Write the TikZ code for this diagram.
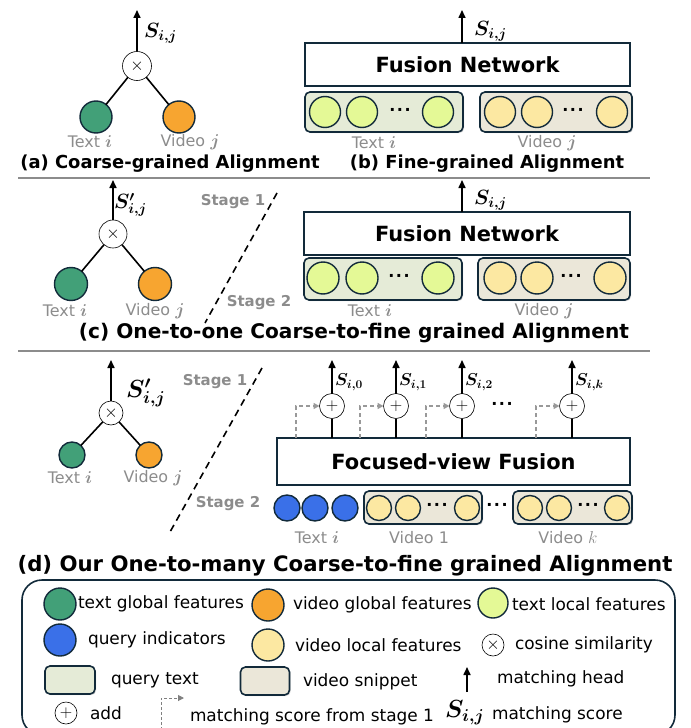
\documentclass[tikz,border=0pt]{standalone}
\usepackage{fontspec}
\setmainfont{DejaVu Sans}
\usepackage{bm}
\usetikzlibrary{arrows.meta,shadows}
\definecolor{navy}{RGB}{18,42,58}
\definecolor{gglob}{RGB}{66,160,120}
\definecolor{vglob}{RGB}{247,165,48}
\definecolor{tloc}{RGB}{228,249,150}
\definecolor{vloc}{RGB}{252,232,162}
\definecolor{qind}{RGB}{58,112,232}
\definecolor{tgrp}{RGB}{229,235,215}
\definecolor{vgrp}{RGB}{235,231,217}
\definecolor{lblgray}{RGB}{140,140,140}
\definecolor{sepgray}{RGB}{140,140,140}
\newcommand\myfs[1]{\fontsize{#1}{#1}\selectfont}
\newcommand\opx{\myfs{16}$\times$}
\newcommand\opp{\myfs{16}$+$}
\newcommand\mydots{·\kern1.5bp·\kern1.5bp·}
\tikzset{
 feat/.style={circle, draw=navy, line width=1.4bp, inner sep=0pt, minimum size=#1},
 grp/.style={draw=navy, line width=1.6bp, rounded corners=5bp, inner sep=0pt,
   drop shadow={opacity=0.3, shadow xshift=1.2bp, shadow yshift=-1.2bp}},
 op/.style={circle, draw=black, line width=0.6bp, fill=white, inner sep=0pt, minimum size=#1},
 conn/.style={line width=1.6bp},
 head/.style={line width=1.6bp, -{Triangle[length=8bp,width=7bp]}},
 stagedash/.style={line width=1.6bp, dash pattern=on 7bp off 5bp},
 prev/.style={draw=black!40, line width=1.4bp, dash pattern=on 4bp off 3bp, -{Triangle[length=6bp,width=6bp]}},
 lbl/.style={text=lblgray, font=\myfs{16}},
 captxt/.style={font=\myfs{#1}\bfseries},
 captxt/.default=18,
 netbox/.style={draw=navy, line width=1.6bp, fill=white, inner sep=0pt, font=\myfs{21}\bfseries},
 stg/.style={text=lblgray, font=\myfs{15}\bfseries},
 leg/.style={font=\myfs{17}, anchor=west},
 dotsn/.style={font=\myfs{16}\bfseries},
 sepline/.style={draw=sepgray, line width=1.8bp},
}
\begin{document}
\begin{tikzpicture}[x=1bp,y=-1bp, every node/.style={inner sep=0pt, outer sep=0pt}]
\useasboundingbox (0,0) rectangle (691,728);

% ---------------- (a)
\node[op=29bp] (xa) at (137,66) {\opx};
\node[feat=32bp, fill=gglob] (ga) at (96,117) {};
\node[feat=32bp, fill=vglob] (oa) at (179,117) {};
\draw[conn] (ga) -- (xa);
\draw[conn] (oa) -- (xa);
\coordinate (ta) at (137,10);
\draw[head] (xa) -- (ta);
\node[anchor=west] (sa) at (144,33) {\myfs{21}$\bm{S_{i,j}}$};
\node[lbl] (lta) at (90,142) {Text $\bm{i}$};
\node[lbl] (lva) at (190,142) {Video $\bm{j}$};
\node[captxt] (capa) at (170,164) {(a) Coarse-grained Alignment};

% ---------------- (b)
\node[netbox, minimum width=325bp, minimum height=43bp] (fb) at (467.5,64.5) {Fusion Network};
\coordinate (fbt) at (462,43);
\coordinate (fbh) at (462,10);
\draw[head] (fbt) -- (fbh);
\node[anchor=west] (sb) at (474,31) {\myfs{21}$\bm{S_{i,j}}$};
\node[grp, fill=tgrp, minimum width=158bp, minimum height=40bp] (tgb) at (384,112) {};
\node[grp, fill=vgrp, minimum width=152bp, minimum height=40bp] (vgb) at (556,112) {};
\node[feat=31bp, fill=tloc] (tb1) at (325,112) {};
\node[feat=31bp, fill=tloc] (tb2) at (362,112) {};
\node[dotsn] (tbd) at (400,112) {\mydots};
\node[feat=31bp, fill=tloc] (tb3) at (438,112) {};
\node[feat=31bp, fill=vloc] (vb1) at (500,112) {};
\node[feat=31bp, fill=vloc] (vb2) at (537,112) {};
\node[dotsn] (vbd) at (573,112) {\mydots};
\node[feat=31bp, fill=vloc] (vb3) at (612,112) {};
\node[lbl] (ltb) at (374,143) {Text $\bm{i}$};
\node[lbl] (lvb) at (547,143) {Video $\bm{j}$};
\node[captxt] (capb) at (487,164) {(b) Fine-grained Alignment};

\draw[sepline] (18,178) -- (650,178);

% ---------------- (c)
\node[op=28bp] (xc) at (113,234) {\opx};
\node[feat=33bp, fill=gglob] (gc) at (71,284) {};
\node[feat=33bp, fill=vglob] (oc) at (155,284) {};
\draw[conn] (gc) -- (xc);
\draw[conn] (oc) -- (xc);
\coordinate (tc) at (113,180);
\draw[head] (xc) -- (tc);
\node[anchor=west] (sc) at (114,205) {\myfs{21}$\bm{S'_{i,j}}$};
\node[lbl] (ltc) at (65,311) {Text $\bm{i}$};
\node[lbl] (lvc) at (155,311) {Video $\bm{j}$};
\node[stg] (s1c) at (233,202) {Stage 1};
\node[stg] (s2c) at (259,303) {Stage 2};
\coordinate (dc1) at (277,193);
\coordinate (dc2) at (205,323);
\draw[stagedash] (dc1) -- (dc2);

\node[netbox, minimum width=326bp, minimum height=43bp] (fc) at (467,233.5) {Fusion Network};
\coordinate (fct) at (462,212);
\coordinate (fch) at (462,180);
\draw[head] (fct) -- (fch);
\node[anchor=west] (sc2) at (474,200) {\myfs{21}$\bm{S_{i,j}}$};
\node[grp, fill=tgrp, minimum width=158bp, minimum height=42bp] (tgc) at (383,279) {};
\node[grp, fill=vgrp, minimum width=152bp, minimum height=42bp] (vgc) at (554,279) {};
\node[feat=32bp, fill=tloc] (tc1) at (323,278) {};
\node[feat=32bp, fill=tloc] (tc2) at (362,278) {};
\node[dotsn] (tcd) at (399,278) {\mydots};
\node[feat=32bp, fill=tloc] (tc3) at (438,278) {};
\node[feat=32bp, fill=vloc] (vc1) at (500,278) {};
\node[feat=32bp, fill=vloc] (vc2) at (537,278) {};
\node[dotsn] (vcd) at (571,278) {\mydots};
\node[feat=32bp, fill=vloc] (vc3) at (610,278) {};
\node[lbl] (ltc2) at (370,311) {Text $\bm{i}$};
\node[lbl] (lvc2) at (544,311) {Video $\bm{j}$};
\node[captxt=20.2] (capc) at (354,333) {(c) One-to-one Coarse-to-fine grained Alignment};

\draw[sepline] (18,351) -- (650,351);

% ---------------- (d)
\node[op=24bp] (xd) at (111,413) {\opx};
\node[feat=26bp, fill=gglob] (gd) at (72,455) {};
\node[feat=26bp, fill=vglob] (od) at (149,455) {};
\draw[conn] (gd) -- (xd);
\draw[conn] (od) -- (xd);
\coordinate (td) at (111,360);
\draw[head] (xd) -- (td);
\node[anchor=west] (sd) at (126,393) {\myfs{23}$\bm{S'_{i,j}}$};
\node[lbl] (ltd) at (70,478) {Text $\bm{i}$};
\node[lbl] (lvd) at (153,478) {Video $\bm{j}$};
\node[stg] (s1d) at (215,382) {Stage 1};
\node[stg] (s2d) at (228,504) {Stage 2};
\coordinate (dd1) at (262,368);
\coordinate (dd2) at (170,532);
\draw[stagedash] (dd1) -- (dd2);

\node[netbox, minimum width=353bp, minimum height=47bp] (fv) at (453.5,461.5) {Focused-view Fusion};
\foreach \n/\x/\s in {0/332/0, 1/396/1, 2/462/2, 3/572/k}{
  \node[op=25bp] (p\n) at (\x,406) {\opp};
  \coordinate (pb\n) at (\x,438);
  \coordinate (pt\n) at (\x,360);
  \coordinate (pd\n) at (\x-36,438);
  \draw[conn] (pb\n) -- (p\n);
  \draw[head] (p\n) -- (pt\n);
  \draw[prev] (pd\n) |- (p\n);
  \node[anchor=west] (ps\n) at (\x+3,382) {\myfs{17}$\bm{S_{i,\s}}$};
}
\node[dotsn] (pdots) at (502,406) {\mydots};

\node[feat=26bp, fill=qind] (q1) at (287,508) {};
\node[feat=26bp, fill=qind] (q2) at (315,508) {};
\node[feat=26bp, fill=qind] (q3) at (345,508) {};
\node[grp, fill=vgrp, minimum width=118bp, minimum height=33bp] (vg1) at (423,507.5) {};
\node[grp, fill=vgrp, minimum width=119bp, minimum height=33bp] (vgk) at (572.5,507.5) {};
\node[feat=25bp, fill=vloc] (v11) at (379,508) {};
\node[feat=25bp, fill=vloc] (v12) at (408,508) {};
\node[dotsn] (v1d) at (437,507) {\mydots};
\node[feat=25bp, fill=vloc] (v13) at (467,508) {};
\node[dotsn] (vmd) at (497,507) {\mydots};
\node[feat=25bp, fill=vloc] (vk1) at (530,508) {};
\node[feat=25bp, fill=vloc] (vk2) at (559,508) {};
\node[dotsn] (vkd) at (588,507) {\mydots};
\node[feat=25bp, fill=vloc] (vk3) at (617,508) {};
\node[lbl] (ltd2) at (317,538) {Text $\bm{i}$};
\node[lbl] (lv1) at (419,538) {Video 1};
\node[lbl] (lvk) at (568,538) {Video $k$};
\node[captxt=21.3] (capd) at (345,566) {(d) Our One-to-many Coarse-to-fine grained Alignment};

% ---------------- legend
\draw[draw=navy, line width=1.6bp, rounded corners=20bp] (22,580) rectangle (675,735);
\node[feat=32bp, fill=gglob] (lg1) at (60,604) {};
\node[leg] (lt1) at (78,604) {text global features};
\node[feat=32bp, fill=vglob] (lg2) at (268,605) {};
\node[leg] (lt2) at (293,605) {video global features};
\node[feat=30bp, fill=tloc] (lg3) at (493,603) {};
\node[leg] (lt3) at (512,604) {text local features};
\node[feat=32bp, fill=qind] (lg4) at (60,640) {};
\node[leg] (lt4) at (88,640) {query indicators};
\node[feat=32bp, fill=vloc] (lg5) at (268,645) {};
\node[leg] (lt5) at (295,645) {video local features};
\node[op=22bp] (lg6) at (493,645) {\opx};
\node[leg] (lt6) at (515,645) {cosine similarity};
\node[grp, fill=tgrp, minimum width=50bp, minimum height=28bp] (lg7) at (70,680) {};
\node[leg] (lt7) at (111,680) {query text};
\node[grp, fill=vgrp, minimum width=49bp, minimum height=28bp] (lg8) at (265,681) {};
\node[leg] (lt8) at (303,682) {video snippet};
\coordinate (la1) at (467,692);
\coordinate (la2) at (467,667);
\draw[head] (la1) -- (la2);
\node[leg] (lt9) at (497,679) {matching head};
\node[op=22bp] (lg10) at (66,713) {\opp};
\node[leg] (lt10) at (90,713) {add};
\coordinate (ld1) at (161,730);
\coordinate (ld2) at (184,698);
\draw[prev, draw=black!50, line width=1bp, dash pattern=on 3bp off 2bp, -{Triangle[length=6bp,width=6bp]}] (ld1) |- (ld2);
\node[leg] (lt11) at (190,717) {matching score from stage 1};
\node[anchor=west] (lg12) at (445,713) {\myfs{23}$\bm{S_{i,j}}$};
\node[leg] (lt12) at (492,715) {matching score};
\end{tikzpicture}
\end{document}
